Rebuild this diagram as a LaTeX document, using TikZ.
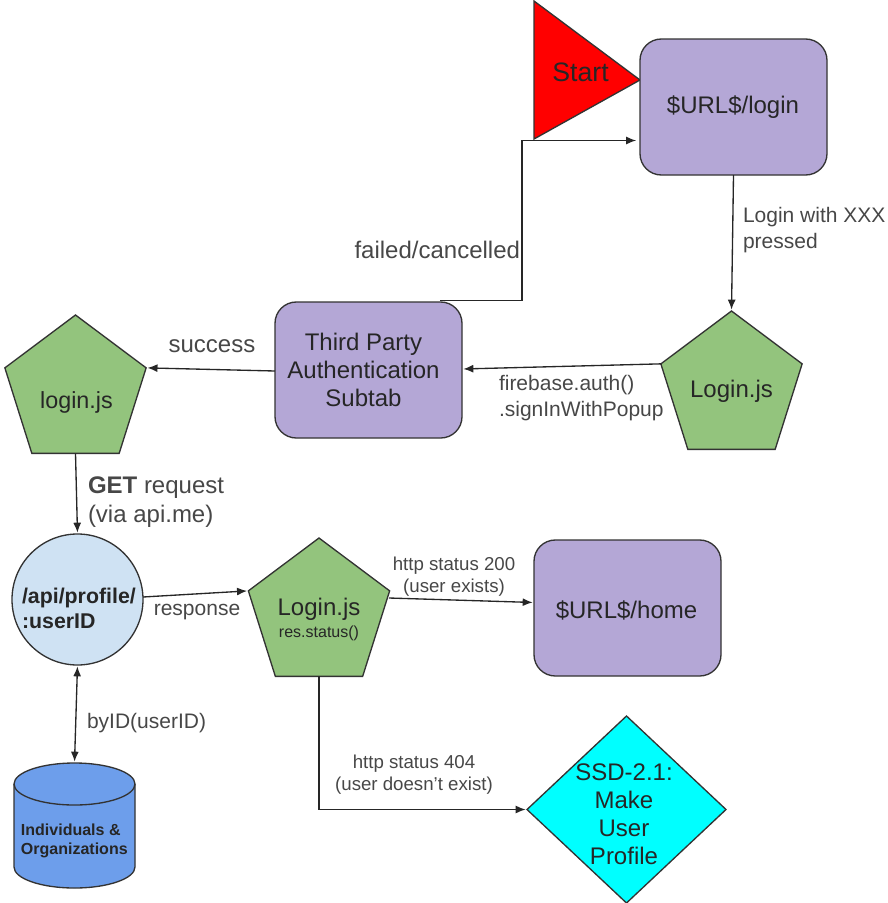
\documentclass[tikz,border=0pt]{standalone}
\usepackage{fontspec}
\setmainfont{Liberation Sans}
\usetikzlibrary{arrows.meta,shapes.geometric}
\definecolor{purp}{HTML}{B4A7D6}
\definecolor{grn}{HTML}{93C47D}
\definecolor{ltblue}{HTML}{CFE2F3}
\definecolor{dbblue}{HTML}{6D9EEB}
\definecolor{aqua}{HTML}{00FFFF}
\definecolor{ink}{HTML}{333333}
\tikzset{
  x=0.75pt,y=-0.75pt,
  shapeline/.style={draw=ink,line width=1pt},
  roombox/.style={shapeline,fill=purp,rounded corners=16pt,minimum width=140.25pt,minimum height=102pt,inner sep=0pt,outer sep=0pt},
  pent/.style={shapeline,fill=grn,regular polygon,regular polygon sides=5,minimum size=111.4pt,inner sep=0pt,outer sep=0pt,transform shape,yscale=1.03},
  conn/.style={draw=black!85,line width=1pt,-{Latex[length=7.5pt,width=6pt]},shorten >=1pt},
  lab/.style={inner sep=0pt,outer sep=0pt,text=black!72},
  shapetxt/.style={inner sep=0pt,outer sep=0pt,text=black!85},
}
\begin{document}
\begin{tikzpicture}
\useasboundingbox (0,0) rectangle (888,903);
% Start triangle
\draw[shapeline,fill=red] (534,1) -- (640,80) -- (534,139) -- cycle;
\node[shapetxt,font=\fontsize{20pt}{22pt}\selectfont] (start) at (580.5,72) {Start};
% rooms
\node[roombox] (loginpage) at (733.5,107) {};
\node[shapetxt,font=\fontsize{18pt}{21pt}\selectfont] (loginpagetext) at (733,107) {\$URL\$/login};
\node[roombox] (tp) at (368.5,370) {};
\node[shapetxt,font=\fontsize{18pt}{21pt}\selectfont,align=center] (tptext) at (363.5,370) {Third Party\\Authentication\\Subtab};
\node[roombox] (home) at (627.5,608) {};
\node[shapetxt,font=\fontsize{18pt}{21pt}\selectfont] (hometext) at (626.5,610) {\$URL\$/home};
% pentagons
\node[pent] (ljsa) at (731.5,387.5) {};
\node[shapetxt,font=\fontsize{18pt}{21pt}\selectfont] (ljsatext) at (731.5,391) {Login.js};
\node[pent] (ljsb) at (75.5,391.5) {};
\node[shapetxt,font=\fontsize{17.5pt}{21pt}\selectfont] (ljsbtext) at (76.5,402) {login.js};
\node[pent] (ljsc) at (319,614.5) {};
\node[shapetxt,font=\fontsize{18pt}{21pt}\selectfont] (ljsctext) at (319,609) {Login.js};
\node[shapetxt,font=\fontsize{12pt}{14pt}\selectfont] (ljsctextb) at (319,633) {res.status()};
% circle
\node[shapeline,fill=ltblue,circle,minimum size=98.25pt,inner sep=0pt,outer sep=0pt] (api) at (77.5,599.5) {};
\node[shapetxt,font=\bfseries\fontsize{16pt}{18.75pt}\selectfont,align=left,anchor=west] (apitext) at (22,608.5) {/api/profile/\\:userID};
% database
\draw[shapeline,fill=dbblue] (14,784) arc[start angle=180,end angle=360,x radius=60.5,y radius=21] -- (135,867) arc[start angle=0,end angle=180,x radius=60.5,y radius=21] -- cycle;
\draw[shapeline] (14,784) arc[start angle=180,end angle=0,x radius=60.5,y radius=21];
\coordinate (dbtop) at (74.5,763);
\node[shapetxt,align=left,font=\bfseries\fontsize{12pt}{14.25pt}\selectfont,anchor=west] (db) at (21,840.5) {Individuals \&\\Organizations};
% diamond
\node[shapeline,fill=aqua,diamond,minimum width=149.25pt,minimum height=140.25pt,inner sep=0pt,outer sep=0pt] (ssd) at (626.5,809.5) {};
\node[shapetxt,align=center,font=\fontsize{18pt}{21pt}\selectfont] (ssdtext) at (624,814.5) {SSD-2.1:\\Make\\User\\Profile};
% connectors
\coordinate (failstart) at (440,300.5);
\coordinate (failbend) at (522,300.5);
\coordinate (failup) at (522,140.5);
\coordinate (failend) at (637.5,140.5);
\draw[conn] (failstart) -- (failbend) -- (failup) -- (failend);
\draw[conn] (loginpage.south) -- (ljsa.corner 1);
\draw[conn] (ljsa.corner 2) -- (tp.east |- 0,369);
\draw[conn] (tp.west |- 0,371) -- (ljsb.corner 5);
\draw[conn] (ljsb.south) -- (api.north);
\draw[conn] (api.east |- 0,597) -- (ljsc.corner 2);
\draw[conn,{Latex[length=7.5pt,width=6pt]}-{Latex[length=7.5pt,width=6pt]},shorten <=1pt] (api.south) -- (dbtop);
\coordinate (okstart) at (389,598);
\draw[conn] (okstart) -- (home.west |- 0,602.5);
\coordinate (notfoundbend) at (ljsc.south |- ssd.west);
\draw[conn] (ljsc.south) -- (notfoundbend) -- (ssd.west);
% labels
\node[lab,align=left,anchor=west,font=\fontsize{15.75pt}{19.5pt}\selectfont] (l1) at (743,230) {Login with XXX\\pressed};
\node[lab,anchor=east,font=\fontsize{18pt}{21pt}\selectfont] (l2) at (520,250) {failed/cancelled};
\node[lab,font=\fontsize{18pt}{21pt}\selectfont] (l3) at (212,346) {success};
\node[lab,align=left,anchor=west,font=\fontsize{15.75pt}{19.5pt}\selectfont] (l4) at (499,398) {firebase.auth()\\.signInWithPopup};
\node[lab,align=left,anchor=west,font=\fontsize{18pt}{21.75pt}\selectfont] (l5) at (88,502) {\textbf{GET} request\\(via api.me)};
\node[lab,font=\fontsize{15.75pt}{19pt}\selectfont] (l6) at (197,612) {response};
\node[lab,anchor=west,font=\fontsize{15.75pt}{19pt}\selectfont] (l7) at (87,723) {byID(userID)};
\node[lab,align=center,font=\fontsize{14pt}{16.5pt}\selectfont] (l8) at (454,577) {http status 200\\(user exists)};
\node[lab,align=center,font=\fontsize{14pt}{16.5pt}\selectfont] (l9) at (414,775) {http status 404\\(user doesn't exist)};
\end{tikzpicture}
\end{document}
